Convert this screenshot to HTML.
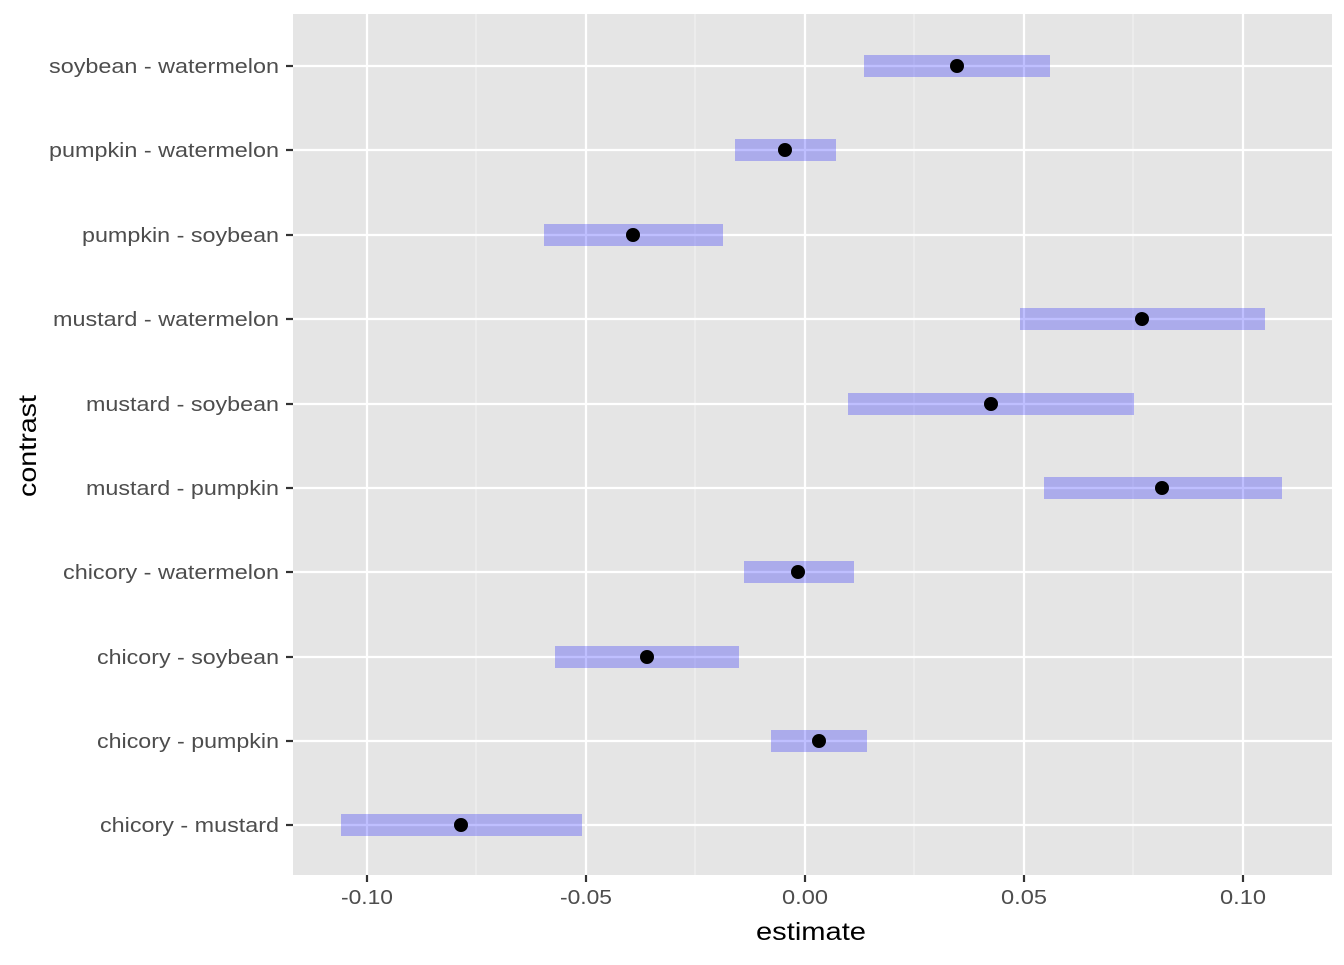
<!DOCTYPE html>
<html><head><meta charset="utf-8"><style>html,body{margin:0;padding:0;background:#fff}</style></head>
<body>
<svg width="1344" height="960" viewBox="0 0 1344 960" xmlns="http://www.w3.org/2000/svg" font-family="Liberation Sans, Arial, sans-serif">
<rect x="293" y="14" width="1039" height="861" fill="#e5e5e5"/>
<g stroke="#f2f2f2" stroke-width="1.1">
<line x1="476" y1="14" x2="476" y2="875"/><line x1="695" y1="14" x2="695" y2="875"/><line x1="914" y1="14" x2="914" y2="875"/><line x1="1133" y1="14" x2="1133" y2="875"/>
</g>
<g stroke="#ffffff" stroke-width="2.2">
<line x1="367" y1="14" x2="367" y2="875"/><line x1="586" y1="14" x2="586" y2="875"/><line x1="805" y1="14" x2="805" y2="875"/><line x1="1024" y1="14" x2="1024" y2="875"/><line x1="1243" y1="14" x2="1243" y2="875"/>
<line x1="293" y1="66" x2="1332" y2="66"/><line x1="293" y1="150" x2="1332" y2="150"/><line x1="293" y1="235" x2="1332" y2="235"/><line x1="293" y1="319" x2="1332" y2="319"/><line x1="293" y1="404" x2="1332" y2="404"/><line x1="293" y1="488" x2="1332" y2="488"/><line x1="293" y1="572" x2="1332" y2="572"/><line x1="293" y1="657" x2="1332" y2="657"/><line x1="293" y1="741" x2="1332" y2="741"/><line x1="293" y1="825" x2="1332" y2="825"/>
</g>
<g fill="#0000ff" fill-opacity="0.25">
<rect x="864" y="55" width="186" height="22"/>
<rect x="735" y="139" width="101" height="22"/>
<rect x="544" y="224" width="179" height="22"/>
<rect x="1020" y="308" width="245" height="22"/>
<rect x="848" y="393" width="286" height="22"/>
<rect x="1044" y="477" width="238" height="22"/>
<rect x="744" y="561" width="110" height="22"/>
<rect x="555" y="646" width="184" height="22"/>
<rect x="771" y="730" width="96" height="22"/>
<rect x="341" y="814" width="241" height="22"/>
</g>
<g fill="#000">
<circle cx="957" cy="66" r="7"/><circle cx="785" cy="150" r="7"/><circle cx="633" cy="235" r="7"/><circle cx="1142" cy="319" r="7"/><circle cx="991" cy="404" r="7"/><circle cx="1162" cy="488" r="7"/><circle cx="798" cy="572" r="7"/><circle cx="647" cy="657" r="7"/><circle cx="819" cy="741" r="7"/><circle cx="461" cy="825" r="7"/>
</g>
<g stroke="#333" stroke-width="2.2">
<line x1="286" y1="66" x2="293" y2="66"/><line x1="286" y1="150" x2="293" y2="150"/><line x1="286" y1="235" x2="293" y2="235"/><line x1="286" y1="319" x2="293" y2="319"/><line x1="286" y1="404" x2="293" y2="404"/><line x1="286" y1="488" x2="293" y2="488"/><line x1="286" y1="572" x2="293" y2="572"/><line x1="286" y1="657" x2="293" y2="657"/><line x1="286" y1="741" x2="293" y2="741"/><line x1="286" y1="825" x2="293" y2="825"/>
<line x1="367" y1="875" x2="367" y2="882"/><line x1="586" y1="875" x2="586" y2="882"/><line x1="805" y1="875" x2="805" y2="882"/><line x1="1024" y1="875" x2="1024" y2="882"/><line x1="1243" y1="875" x2="1243" y2="882"/>
</g>
<g fill="#4d4d4d" font-size="20" lengthAdjust="spacingAndGlyphs">
<text x="49" y="73" textLength="230" lengthAdjust="spacingAndGlyphs">soybean - watermelon</text>
<text x="49" y="157" textLength="230" lengthAdjust="spacingAndGlyphs">pumpkin - watermelon</text>
<text x="82" y="242" textLength="197" lengthAdjust="spacingAndGlyphs">pumpkin - soybean</text>
<text x="53" y="326" textLength="226" lengthAdjust="spacingAndGlyphs">mustard - watermelon</text>
<text x="86" y="411" textLength="193" lengthAdjust="spacingAndGlyphs">mustard - soybean</text>
<text x="86" y="495" textLength="193" lengthAdjust="spacingAndGlyphs">mustard - pumpkin</text>
<text x="63" y="579" textLength="216" lengthAdjust="spacingAndGlyphs">chicory - watermelon</text>
<text x="97" y="664" textLength="182" lengthAdjust="spacingAndGlyphs">chicory - soybean</text>
<text x="97" y="748" textLength="182" lengthAdjust="spacingAndGlyphs">chicory - pumpkin</text>
<text x="100" y="832" textLength="179" lengthAdjust="spacingAndGlyphs">chicory - mustard</text>
</g>
<g fill="#4d4d4d" font-size="20">
<text x="341" y="904" textLength="52" lengthAdjust="spacingAndGlyphs">-0.10</text>
<text x="560" y="904" textLength="52" lengthAdjust="spacingAndGlyphs">-0.05</text>
<text x="782" y="904" textLength="46" lengthAdjust="spacingAndGlyphs">0.00</text>
<text x="1001" y="904" textLength="46" lengthAdjust="spacingAndGlyphs">0.05</text>
<text x="1220" y="904" textLength="46" lengthAdjust="spacingAndGlyphs">0.10</text>
</g>
<text x="756" y="940" font-size="25" textLength="110" lengthAdjust="spacingAndGlyphs" fill="#000">estimate</text>
<text transform="translate(36,497) rotate(-90)" font-size="25" textLength="102" lengthAdjust="spacingAndGlyphs" fill="#000">contrast</text>
</svg>
</body></html>
